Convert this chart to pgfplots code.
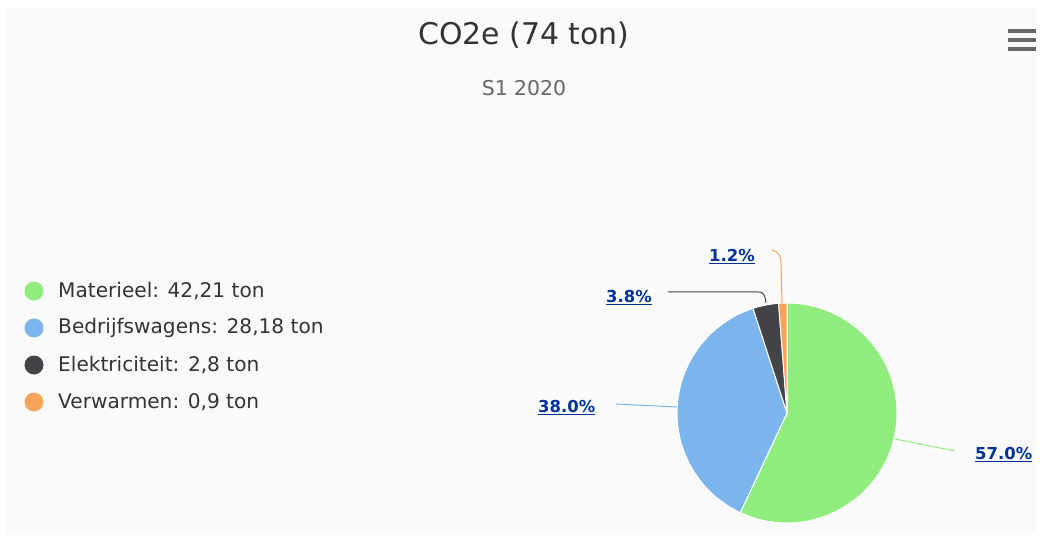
\documentclass[border=0pt]{standalone}
\usepackage{pgfplots}
\pgfplotsset{compat=1.18}
\usepackage{fontspec}
\setmainfont{DejaVu Sans}
\definecolor{cGreen}{HTML}{90ED7D}
\definecolor{cBlue}{HTML}{7CB5EC}
\definecolor{cDark}{HTML}{434348}
\definecolor{cOrange}{HTML}{F7A35C}
\definecolor{cText}{HTML}{333333}
\definecolor{cSub}{HTML}{666666}
\definecolor{cLabel}{HTML}{003399}
\definecolor{cBg}{HTML}{FAFAFA}
% values (ton)
\def\vA{42.21}
\def\vB{28.18}
\def\vC{2.8}
\def\vD{0.9}
\pgfmathsetmacro\tot{\vA+\vB+\vC+\vD}
\pgfmathsetmacro\aA{90}
\pgfmathsetmacro\aB{\aA-360*\vA/\tot}
\pgfmathsetmacro\aC{\aB-360*\vB/\tot}
\pgfmathsetmacro\aD{\aC-360*\vC/\tot}
\pgfmathsetmacro\aE{\aD-360*\vD/\tot}
\def\cx{787}
\def\cy{124}
\def\rr{110}
\begin{document}
\begin{tikzpicture}
\begin{axis}[
  width=1040bp, height=537bp, scale only axis,
  xmin=0, xmax=1040, ymin=0, ymax=537,
  axis lines=none, clip=false,
]
\fill[white] (0,0) rectangle (1040,537);
\fill[cBg] (6,4) rectangle (1036,529);
% pie sectors
\addplot[fill=cGreen, draw=white, line width=1bp, domain=\aB:\aA, samples=90]
  ({\cx+\rr*cos(x)},{\cy+\rr*sin(x)}) -- (\cx,\cy) -- cycle;
\addplot[fill=cBlue, draw=white, line width=1bp, domain=\aC:\aB, samples=70]
  ({\cx+\rr*cos(x)},{\cy+\rr*sin(x)}) -- (\cx,\cy) -- cycle;
\addplot[fill=cDark, draw=white, line width=1bp, domain=\aD:\aC, samples=10]
  ({\cx+\rr*cos(x)},{\cy+\rr*sin(x)}) -- (\cx,\cy) -- cycle;
\addplot[fill=cOrange, draw=white, line width=1bp, domain=\aE:\aD, samples=5]
  ({\cx+\rr*cos(x)},{\cy+\rr*sin(x)}) -- (\cx,\cy) -- cycle;
% connectors
\draw[cGreen, line width=1bp] (895,98) -- (955,86);
\draw[cBlue, line width=1bp] (616,133) -- (677,130);
\draw[cDark, line width=1bp] (668,245) -- (758,245) .. controls (765,245) and (765,240) .. (766,234);
\draw[cOrange, line width=1bp] (772,287) .. controls (780,285) and (781,280) .. (781,272) -- (782,234);
% data labels
\begin{scope}[every node/.style={text=cLabel, font=\bfseries\fontsize{16.5}{19}\selectfont, inner sep=0pt}]
\node[anchor=west] at (975,82) {\underline{57.0\%}};
\node[anchor=west] at (538,129) {\underline{38.0\%}};
\node[anchor=west] at (606,239) {\underline{3.8\%}};
\node[anchor=west] at (709,280) {\underline{1.2\%}};
\end{scope}
% title
\node[text=cText, font=\fontsize{30}{34}\selectfont] at (524,502) {CO2e (74 ton)};
\node[text=cSub, font=\fontsize{20.5}{24}\selectfont] at (524,449) {S1 2020};
% menu icon
\fill[cSub] (1008,504) rectangle (1036,508);
\fill[cSub] (1008,495) rectangle (1036,499);
\fill[cSub] (1008,486) rectangle (1036,490);
% legend
\begin{scope}[every node/.style={text=cText, font=\fontsize{20.2}{24}\selectfont, anchor=west, inner sep=0pt}]
\fill[cGreen] (34,246) circle[radius=9.5bp];
\node at (58,246) {Materieel: 42,21 ton};
\fill[cBlue] (34,209) circle[radius=9.5bp];
\node at (58,209) {Bedrijfswagens: 28,18 ton};
\fill[cDark] (34,172) circle[radius=9.5bp];
\node at (58,172) {Elektriciteit: 2,8 ton};
\fill[cOrange] (34,135) circle[radius=9.5bp];
\node at (58,135) {Verwarmen: 0,9 ton};
\end{scope}
\end{axis}
\end{tikzpicture}
\end{document}
